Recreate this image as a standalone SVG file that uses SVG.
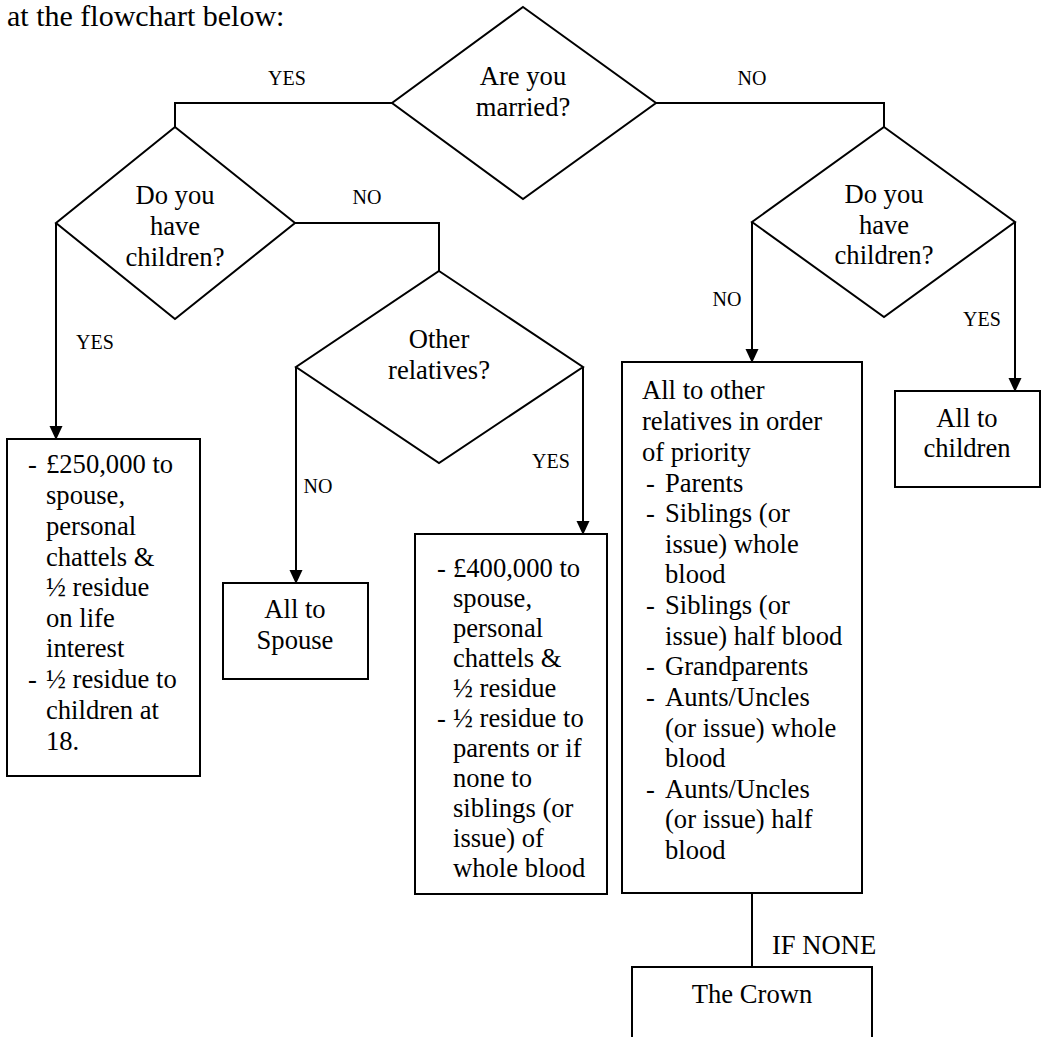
<svg xmlns="http://www.w3.org/2000/svg" width="1043" height="1037" viewBox="0 0 1043 1037">
<style>
  text { font-family: "Liberation Serif", "Times New Roman", serif; fill: #000; }
  .t { font-size: 26.6px; }
  .c { text-anchor: middle; }
  .lbl { font-size: 20px; text-anchor: middle; }
  .shape { fill: #fff; stroke: #000; stroke-width: 2; }
  .edge { fill: none; stroke: #000; stroke-width: 2; }
</style>
<defs>
  <marker id="arrow" markerWidth="14" markerHeight="15" refX="14" refY="7" orient="auto" markerUnits="userSpaceOnUse" viewBox="0 0 15 14">
    <path d="M0,0 L15,7 L0,14 Z" fill="#000"/>
  </marker>
</defs>
<rect width="1043" height="1037" fill="#fff"/>
<text x="7" y="26" style="font-size:30px">at the flowchart below:</text>

<g id="connectors">
  <polyline class="edge" points="392,103 175,103 175,127"/>
  <polyline class="edge" points="656,103 884,103 884,127"/>
  <line class="edge" x1="56" y1="223" x2="56" y2="439" marker-end="url(#arrow)"/>
  <polyline class="edge" points="295,223 439,223 439,271"/>
  <line class="edge" x1="296" y1="367" x2="296" y2="583" marker-end="url(#arrow)"/>
  <line class="edge" x1="583" y1="367" x2="583" y2="534" marker-end="url(#arrow)"/>
  <line class="edge" x1="752" y1="222" x2="752" y2="362" marker-end="url(#arrow)"/>
  <line class="edge" x1="1015" y1="222" x2="1015" y2="391" marker-end="url(#arrow)"/>
  <line class="edge" x1="752" y1="893" x2="752" y2="967"/>
  <text class="lbl" x="287" y="85">YES</text>
  <text class="lbl" x="752" y="85">NO</text>
  <text class="lbl" x="367" y="204">NO</text>
  <text class="lbl" x="95" y="349">YES</text>
  <text class="lbl" x="318" y="493">NO</text>
  <text class="lbl" x="551" y="468">YES</text>
  <text class="lbl" x="727" y="306">NO</text>
  <text class="lbl" x="982" y="326">YES</text>
  <text class="t" x="772" y="954">IF NONE</text>
</g>

<g id="q-married">
  <polygon class="shape" points="523,7 656,103 523,199 392,103"/>
  <text class="t c" x="523" y="85">Are you</text>
  <text class="t c" x="523" y="116">married?</text>
</g>

<g id="q-children-married">
  <polygon class="shape" points="175,127 295,223 175,319 56,223"/>
  <text class="t c" x="175" y="204">Do you</text>
  <text class="t c" x="175" y="235">have</text>
  <text class="t c" x="175" y="266">children?</text>
</g>

<g id="q-other-relatives">
  <polygon class="shape" points="439,271 583,367 439,463 296,367"/>
  <text class="t c" x="439" y="348">Other</text>
  <text class="t c" x="439" y="379">relatives?</text>
</g>

<g id="q-children-single">
  <polygon class="shape" points="884,127 1015,222 884,317 752,222"/>
  <text class="t c" x="884" y="203">Do you</text>
  <text class="t c" x="884" y="234">have</text>
  <text class="t c" x="884" y="264">children?</text>
</g>

<g id="box-spouse-children">
  <rect class="shape" x="7" y="439" width="193" height="337"/>
  <text class="t" x="28" y="473">-</text>
  <text class="t" x="46" y="473">£250,000 to</text>
  <text class="t" x="46" y="504">spouse,</text>
  <text class="t" x="46" y="535">personal</text>
  <text class="t" x="46" y="566">chattels &amp;</text>
  <text class="t" x="46" y="596">½ residue</text>
  <text class="t" x="46" y="627">on life</text>
  <text class="t" x="46" y="657">interest</text>
  <text class="t" x="28" y="688">-</text>
  <text class="t" x="46" y="688">½ residue to</text>
  <text class="t" x="46" y="719">children at</text>
  <text class="t" x="46" y="750">18.</text>
</g>

<g id="box-all-spouse">
  <rect class="shape" x="223" y="583" width="145" height="96"/>
  <text class="t c" x="295" y="618">All to</text>
  <text class="t c" x="295" y="649">Spouse</text>
</g>

<g id="box-spouse-relatives">
  <rect class="shape" x="415" y="534" width="192" height="360"/>
  <text class="t" x="437" y="577">-</text>
  <text class="t" x="453" y="577">£400,000 to</text>
  <text class="t" x="453" y="607">spouse,</text>
  <text class="t" x="453" y="637">personal</text>
  <text class="t" x="453" y="667">chattels &amp;</text>
  <text class="t" x="453" y="697">½ residue</text>
  <text class="t" x="437" y="727">-</text>
  <text class="t" x="453" y="727">½ residue to</text>
  <text class="t" x="453" y="757">parents or if</text>
  <text class="t" x="453" y="787">none to</text>
  <text class="t" x="453" y="817">siblings (or</text>
  <text class="t" x="453" y="847">issue) of</text>
  <text class="t" x="453" y="877">whole blood</text>
</g>

<g id="box-other-relatives">
  <rect class="shape" x="622" y="362" width="240" height="531"/>
  <text class="t" x="642" y="399">All to other</text>
  <text class="t" x="642" y="430">relatives in order</text>
  <text class="t" x="642" y="461">of priority</text>
  <text class="t" x="646" y="492">-</text>
  <text class="t" x="665" y="492">Parents</text>
  <text class="t" x="646" y="522">-</text>
  <text class="t" x="665" y="522">Siblings (or</text>
  <text class="t" x="665" y="553">issue) whole</text>
  <text class="t" x="665" y="583">blood</text>
  <text class="t" x="646" y="614">-</text>
  <text class="t" x="665" y="614">Siblings (or</text>
  <text class="t" x="665" y="645">issue) half blood</text>
  <text class="t" x="646" y="675">-</text>
  <text class="t" x="665" y="675">Grandparents</text>
  <text class="t" x="646" y="706">-</text>
  <text class="t" x="665" y="706">Aunts/Uncles</text>
  <text class="t" x="665" y="737">(or issue) whole</text>
  <text class="t" x="665" y="767">blood</text>
  <text class="t" x="646" y="798">-</text>
  <text class="t" x="665" y="798">Aunts/Uncles</text>
  <text class="t" x="665" y="828">(or issue) half</text>
  <text class="t" x="665" y="859">blood</text>
</g>

<g id="box-all-children">
  <rect class="shape" x="895" y="391" width="145" height="96"/>
  <text class="t c" x="967" y="427">All to</text>
  <text class="t c" x="967" y="457">children</text>
</g>

<g id="box-crown">
  <path class="shape" d="M632,1040 L632,967 L872,967 L872,1040"/>
  <text class="t c" x="752" y="1003">The Crown</text>
</g>
</svg>
